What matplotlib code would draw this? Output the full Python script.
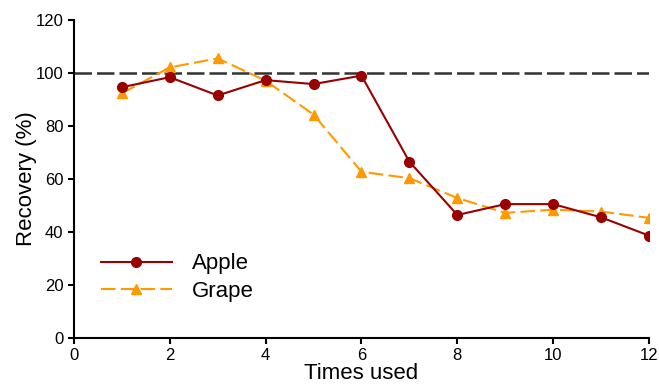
import matplotlib
matplotlib.use("Agg")
import matplotlib.pyplot as plt

plt.rcParams['font.family'] = ['Liberation Sans', 'DejaVu Sans']

# data
times = [1, 2, 3, 4, 5, 6, 7, 8, 9, 10, 11, 12]
apple = [94.6, 98.4, 91.5, 97.3, 95.8, 99.0, 66.5, 46.4, 50.5, 50.5, 45.5, 38.6]
grape = [92.3, 102.1, 105.5, 97.1, 84.3, 62.7, 60.3, 52.8, 47.2, 48.4, 47.7, 45.3]
reference_level = 100

fig = plt.figure(figsize=(6.59, 3.84), dpi=100)
ax = fig.add_axes([0.112, 0.12, 0.873, 0.828])

ax.axhline(reference_level, color='#333333', linestyle=(0, (7, 2)), linewidth=1.8, zorder=1)
ax.plot(times, apple, color='#990000', marker='o', markersize=7, linewidth=1.5, label='Apple', zorder=3)
ax.plot(times, grape, color='#FF9900', marker='^', markersize=7, linewidth=1.5,
        linestyle=(0, (7, 2.5)), label='Grape', zorder=2)

ax.set_xlim(0, 12)
ax.set_ylim(0, 120)
ax.set_xticks(range(0, 13, 2))
ax.set_yticks(range(0, 121, 20))
ax.set_xlabel('Times used', fontsize=16, labelpad=0)
ax.set_ylabel('Recovery (%)', fontsize=16, labelpad=-1)
ax.tick_params(labelsize=12, width=1.5, length=4, direction='out')

for side in ['top', 'right']:
    ax.spines[side].set_visible(False)
for side in ['left', 'bottom']:
    ax.spines[side].set_linewidth(1.5)

ax.legend(loc='lower left', bbox_to_anchor=(0.012, 0.05), frameon=False, fontsize=16,
          handlelength=3.2, handletextpad=0.9, labelspacing=0.3)

fig.savefig('out.png', dpi=100)
